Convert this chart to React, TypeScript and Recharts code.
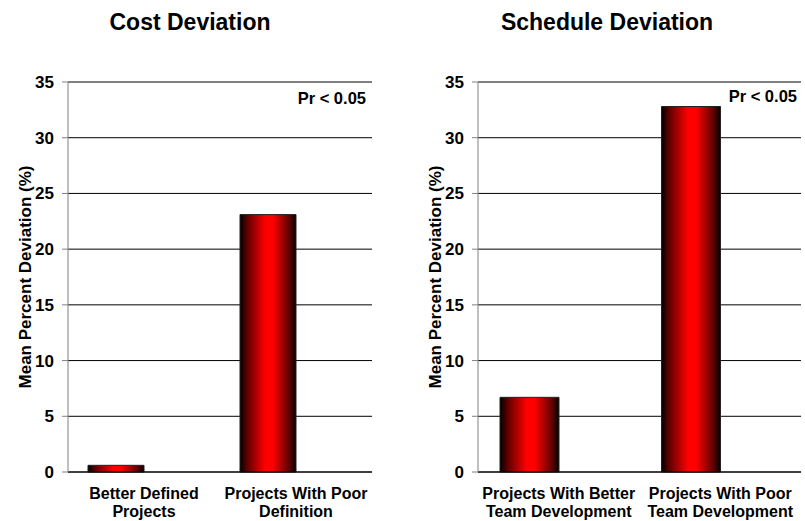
import { BarChart, Bar, XAxis, YAxis, CartesianGrid } from 'recharts';

const costCategories = ['Better Defined\nProjects', 'Projects With Poor\nDefinition'];
const costValues = [0.6, 23.1];
const scheduleCategories = ['Projects With Better\nTeam Development', 'Projects With Poor\nTeam Development'];
const scheduleValues = [6.7, 32.8];
// Excel left an empty second series, which pushes each bar left of its category centre
const emptySeries = [0, 0];
const yTicks = [0, 5, 10, 15, 20, 25, 30, 35];

const FONT = '"Liberation Sans", Arial, sans-serif';

function CategoryTick({ x, y, payload }: any) {
  const lines = String(payload.value).split('\n');
  return (
    <text x={x} y={y} textAnchor="middle" fontFamily={FONT} fontWeight="bold" fontSize={16} fill="#000">
      {lines.map((line, i) => (
        <tspan key={i} x={x} dy={i === 0 ? 27 : 18}>
          {line}
        </tspan>
      ))}
    </text>
  );
}

function yLabel(cx: number) {
  return (props: any) => {
    const vb = props.viewBox || {};
    const x = (vb.x || 0) + cx;
    const y = (vb.y || 0) + (vb.height || 0) / 2;
    return (
      <text
        x={x}
        y={y}
        transform={`rotate(-90, ${x}, ${y})`}
        textAnchor="middle"
        dominantBaseline="central"
        fontFamily={FONT}
        fontWeight="bold"
        fontSize={17}
        fill="#000"
      >
        Mean Percent Deviation (%)
      </text>
    );
  };
}

interface PanelProps {
  id: string;
  categories: string[];
  values: number[];
  width: number;
  axisWidth: number;
  marginRight: number;
  labelX: number;
  gap: number;
}

function Panel({ id, categories, values, width, axisWidth, marginRight, labelX, gap }: PanelProps) {
  const data = categories.map((name, i) => ({ name, value: values[i], spacer: emptySeries[i] }));
  return (
    <BarChart
      width={width}
      height={521}
      data={data}
      margin={{ top: 82, right: marginRight, bottom: 0, left: 0 }}
      barGap={0}
      barCategoryGap={gap}
    >
      <defs>
        <linearGradient id={id} x1="0" y1="0" x2="1" y2="0">
          <stop offset="0%" stopColor="#000" />
          <stop offset="12%" stopColor="#5a0000" />
          <stop offset="45%" stopColor="#ff0000" />
          <stop offset="58%" stopColor="#ff0000" />
          <stop offset="88%" stopColor="#600000" />
          <stop offset="100%" stopColor="#000" />
        </linearGradient>
      </defs>
      <CartesianGrid vertical={false} stroke="#000" />
      <XAxis
        dataKey="name"
        interval={0}
        height={49}
        tickLine={false}
        tickSize={0}
        tickMargin={0}
        axisLine={{ stroke: '#000' }}
        tick={<CategoryTick />}
      />
      <XAxis
        xAxisId="top"
        orientation="top"
        dataKey="name"
        height={0}
        tick={false}
        tickLine={false}
        axisLine={{ stroke: '#808080' }}
      />
      <YAxis
        domain={[0, 35]}
        ticks={yTicks}
        interval={0}
        width={axisWidth}
        tickSize={6}
        tickMargin={8}
        axisLine={{ stroke: '#808080' }}
        tickLine={{ stroke: '#808080' }}
        tick={{ fill: '#000', fontSize: 17, fontWeight: 'bold', fontFamily: FONT }}
        label={yLabel(labelX)}
      />
      <YAxis
        yAxisId="right"
        orientation="right"
        domain={[0, 35]}
        width={0}
        tick={false}
        tickLine={false}
        axisLine={{ stroke: '#808080' }}
      />
      <Bar dataKey="value" fill={`url(#${id})`} stroke="#222" strokeWidth={1} isAnimationActive={false} />
      <Bar dataKey="spacer" fill="transparent" isAnimationActive={false} />
    </BarChart>
  );
}

const titleStyle = {
  position: 'absolute' as const,
  top: 9,
  fontFamily: FONT,
  fontWeight: 'bold' as const,
  fontSize: 23,
  color: '#000',
  textAlign: 'center' as const,
  whiteSpace: 'nowrap' as const,
};

const prStyle = {
  position: 'absolute' as const,
  fontFamily: FONT,
  fontWeight: 'bold' as const,
  fontSize: 16.5,
  color: '#000',
  whiteSpace: 'nowrap' as const,
};

export default function App() {
  return (
    <div style={{ position: 'absolute', left: 0, top: 0, width: 805, height: 521, background: '#fff', overflow: 'hidden' }}>
      <div style={{ position: 'absolute', left: 0, top: 0 }}>
        <Panel
          id="gradCost"
          categories={costCategories}
          values={costValues}
          width={400}
          axisWidth={68}
          marginRight={28}
          labelX={25}
          gap={20}
        />
      </div>
      <div style={{ position: 'absolute', left: 400, top: 0 }}>
        <Panel
          id="gradSchedule"
          categories={scheduleCategories}
          values={scheduleValues}
          width={405}
          axisWidth={78}
          marginRight={4}
          labelX={35}
          gap={22}
        />
      </div>
      <div style={{ ...titleStyle, left: 90, width: 200 }}>Cost Deviation</div>
      <div style={{ ...titleStyle, left: 487, width: 240 }}>Schedule Deviation</div>
      <div style={{ ...prStyle, right: 805 - 366, top: 89 }}>Pr &lt; 0.05</div>
      <div style={{ ...prStyle, right: 805 - 797, top: 87 }}>Pr &lt; 0.05</div>
    </div>
  );
}
